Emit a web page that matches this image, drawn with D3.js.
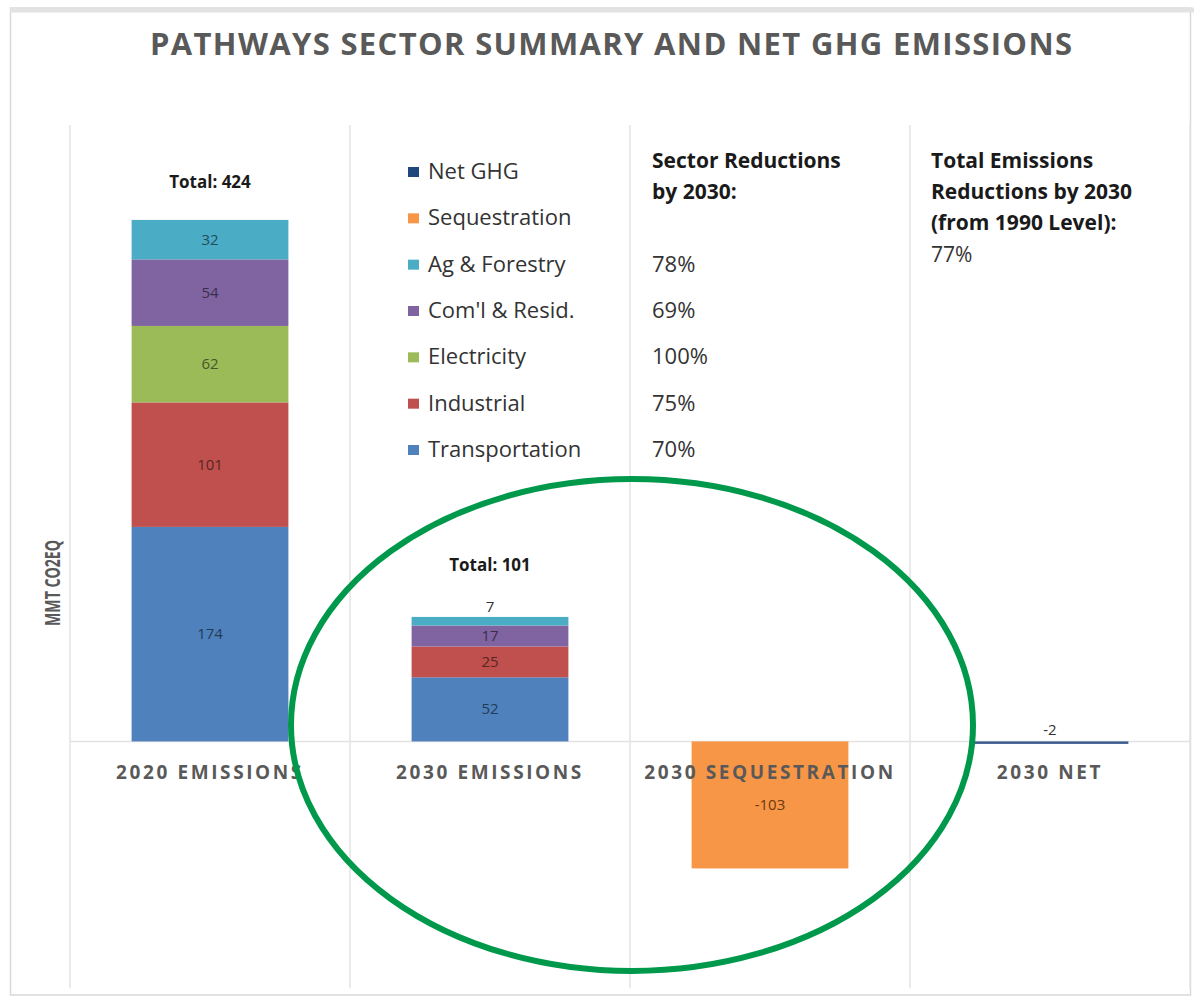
<!DOCTYPE html>
<html>
<head>
<meta charset="utf-8">
<script src="https://cdn.jsdelivr.net/npm/d3@7"></script>
<style>
  body { margin: 0; background: #fff; }
  svg { display: block; font-family: "Open Sans", sans-serif; }
</style>
</head>
<body>
<div id="chart"></div>
<script>
// data
var categories = ["2020 EMISSIONS", "2030 EMISSIONS", "2030 SEQUESTRATION", "2030 NET"];
var sectors = ["Transportation", "Industrial", "Electricity", "Com'l & Resid.", "Ag & Forestry"];
var sectorColors = ["#4f81bd", "#c0504d", "#9bbb59", "#8064a2", "#4bacc6"];
var emissions2020 = [174, 101, 62, 54, 32];
var emissions2030 = [52, 25, 0, 17, 7];
var totals = [424, 101];
var sequestration = [-103];
var netGhg = [-2];
var legendNames = ["Net GHG", "Sequestration", "Ag & Forestry", "Com'l & Resid.", "Electricity", "Industrial", "Transportation"];
var legendColors = ["#1f497d", "#f79646", "#4bacc6", "#8064a2", "#9bbb59", "#c0504d", "#4f81bd"];
var sectorReductions = ["", "", "78%", "69%", "100%", "75%", "70%"];
var yTicks = [-200, 500];

var width = 1194, height = 1003;

var svg = d3.select("#chart").append("svg")
    .attr("width", width)
    .attr("height", height);

// frame of the slide picture
svg.append("rect")
    .attr("x", 10.5).attr("y", 8)
    .attr("width", 1180).attr("height", 987)
    .attr("fill", "#fff")
    .attr("stroke", "#d9d9d9")
    .attr("stroke-width", 1.5);
svg.append("line")
    .attr("x1", 10).attr("x2", 1194)
    .attr("y1", 10).attr("y2", 10)
    .attr("stroke", "#e2e2e2")
    .attr("stroke-width", 5);

svg.append("text")
    .attr("x", 611)
    .attr("y", 55)
    .attr("text-anchor", "middle")
    .attr("fill", "#595959")
    .attr("font-weight", "bold")
    .attr("font-size", "31px")
    .attr("textLength", 922)
    .attr("lengthAdjust", "spacing")
    .text("PATHWAYS SECTOR SUMMARY AND NET GHG EMISSIONS");

var x = d3.scaleBand()
    .domain(categories)
    .range([70, 1190]);

var barW = x.bandwidth() * 0.56;
var barX = function (c) { return x(c) + (x.bandwidth() - barW) / 2; };

var y = d3.scaleLinear()
    .domain(d3.extent(yTicks))
    .range([988, 125]);

// vertical separators between categories
var seps = categories.map(function (c) { return x(c); }).concat([x.range()[1]]);
svg.selectAll(".sep")
    .data(seps)
    .enter()
    .append("line")
    .attr("class", "sep")
    .attr("x1", function (d) { return d; })
    .attr("x2", function (d) { return d; })
    .attr("y1", y.range()[1])
    .attr("y2", y.range()[0])
    .attr("stroke", "#e3e3e3")
    .attr("stroke-width", 1.5);

// zero line
svg.append("line")
    .attr("x1", 70).attr("x2", 1190)
    .attr("y1", y(0)).attr("y2", y(0))
    .attr("stroke", "#e3e3e3")
    .attr("stroke-width", 1.5);

// y axis title (condensed look)
svg.append("text")
    .attr("transform", "translate(60,583) rotate(-90)")
    .attr("text-anchor", "middle")
    .attr("fill", "#595959")
    .attr("font-weight", "bold")
    .attr("font-size", "22px")
    .attr("textLength", 86)
    .attr("lengthAdjust", "spacingAndGlyphs")
    .text("MMT CO2EQ");

// stacked sector bars
var stackedCols = [emissions2020, emissions2030];
stackedCols.forEach(function (vals, ci) {
    var cat = categories[ci];
    var base = 0;
    var segs = vals.map(function (v, i) {
        var s = { v: v, y0: base, y1: base + v, color: sectorColors[i] };
        base += v;
        return s;
    }).filter(function (s) { return s.v > 0; });

    var g = svg.append("g");
    g.selectAll("rect")
        .data(segs)
        .enter()
        .append("rect")
        .attr("x", barX(cat))
        .attr("width", barW)
        .attr("y", function (d) { return y(d.y1); })
        .attr("height", function (d) { return y(d.y0) - y(d.y1); })
        .attr("fill", function (d) { return d.color; });

    var labelAbove = false;
    g.selectAll("text")
        .data(segs)
        .enter()
        .append("text")
        .attr("x", barX(cat) + barW / 2)
        .attr("y", function (d) {
            var h = y(d.y0) - y(d.y1);
            if (h < 14) { labelAbove = true; return y(d.y1) - 5; }
            return (y(d.y0) + y(d.y1)) / 2 + 5;
        })
        .attr("text-anchor", "middle")
        .attr("font-size", "15px")
        .attr("fill", function (d) {
            var h = y(d.y0) - y(d.y1);
            return h < 14 ? "#333" : d3.color(d.color).darker(2.2);
        })
        .text(function (d) { return d.v; });

    svg.append("text")
        .attr("x", barX(cat) + barW / 2)
        .attr("y", y(totals[ci]) - (labelAbove ? 46 : 31))
        .attr("text-anchor", "middle")
        .attr("font-weight", "bold")
        .attr("font-size", "17px")
        .attr("fill", "#1a1a1a")
        .text("Total: " + totals[ci]);
});

// sequestration bar
svg.selectAll(".seq")
    .data(sequestration)
    .enter()
    .append("rect")
    .attr("class", "seq")
    .attr("x", barX(categories[2]))
    .attr("width", barW)
    .attr("y", y(0))
    .attr("height", function (d) { return y(d) - y(0); })
    .attr("fill", "#f79646");

svg.selectAll(".seqLabel")
    .data(sequestration)
    .enter()
    .append("text")
    .attr("x", barX(categories[2]) + barW / 2)
    .attr("y", function (d) { return (y(d) + y(0)) / 2 + 5; })
    .attr("text-anchor", "middle")
    .attr("font-size", "15px")
    .attr("fill", "#6b3a10")
    .text(function (d) { return d; });

// net bar
svg.selectAll(".net")
    .data(netGhg)
    .enter()
    .append("rect")
    .attr("x", barX(categories[3]))
    .attr("width", barW)
    .attr("y", y(0))
    .attr("height", function (d) { return y(d) - y(0); })
    .attr("fill", "#3b5a8c");

svg.selectAll(".netLabel")
    .data(netGhg)
    .enter()
    .append("text")
    .attr("x", barX(categories[3]) + barW / 2)
    .attr("y", y(0) - 6)
    .attr("text-anchor", "middle")
    .attr("font-size", "15px")
    .attr("fill", "#333")
    .text(function (d) { return d; });

// category labels
svg.selectAll(".cat")
    .data(categories)
    .enter()
    .append("text")
    .attr("x", function (d) { return x(d) + x.bandwidth() / 2; })
    .attr("y", y(0) + 38)
    .attr("text-anchor", "middle")
    .attr("font-weight", "bold")
    .attr("font-size", "19px")
    .attr("letter-spacing", "2.6px")
    .attr("fill", "#595959")
    .text(function (d) { return d; });

// legend
var rowY = d3.scalePoint()
    .domain(legendNames)
    .range([172, 450]);

var leg = svg.selectAll(".leg")
    .data(legendNames)
    .enter()
    .append("g")
    .attr("transform", function (d) { return "translate(408," + rowY(d) + ")"; });

leg.append("rect")
    .attr("x", 0).attr("y", -5)
    .attr("width", 11).attr("height", 10)
    .attr("fill", function (d, i) { return legendColors[i]; });

leg.append("text")
    .attr("x", 20)
    .attr("y", 7)
    .attr("font-size", "22px")
    .attr("fill", "#333")
    .text(function (d) { return d; });

svg.selectAll(".red")
    .data(sectorReductions)
    .enter()
    .append("text")
    .attr("x", 652)
    .attr("y", function (d, i) { return rowY(legendNames[i]) + 7; })
    .attr("font-size", "22px")
    .attr("fill", "#333")
    .text(function (d) { return d; });

var sectorHead = svg.append("text")
    .attr("font-weight", "bold")
    .attr("font-size", "21px")
    .attr("fill", "#1a1a1a");
sectorHead.append("tspan").attr("x", 652).attr("y", 168).text("Sector Reductions");
sectorHead.append("tspan").attr("x", 652).attr("y", 199).text("by 2030:");

var totalHead = svg.append("text")
    .attr("font-size", "21px")
    .attr("fill", "#1a1a1a");
totalHead.append("tspan").attr("x", 931).attr("y", 168).attr("font-weight", "bold").text("Total Emissions");
totalHead.append("tspan").attr("x", 931).attr("y", 199).attr("font-weight", "bold").text("Reductions by 2030");
totalHead.append("tspan").attr("x", 931).attr("y", 230).attr("font-weight", "bold").text("(from 1990 Level):");
totalHead.append("tspan").attr("x", 931).attr("y", 262).attr("fill", "#333").text("77%");

// green highlight ring
svg.append("ellipse")
    .attr("cx", 632)
    .attr("cy", 725)
    .attr("rx", 341)
    .attr("ry", 246)
    .attr("fill", "none")
    .attr("stroke", "#00994c")
    .attr("stroke-width", 6);
</script>
</body>
</html>
